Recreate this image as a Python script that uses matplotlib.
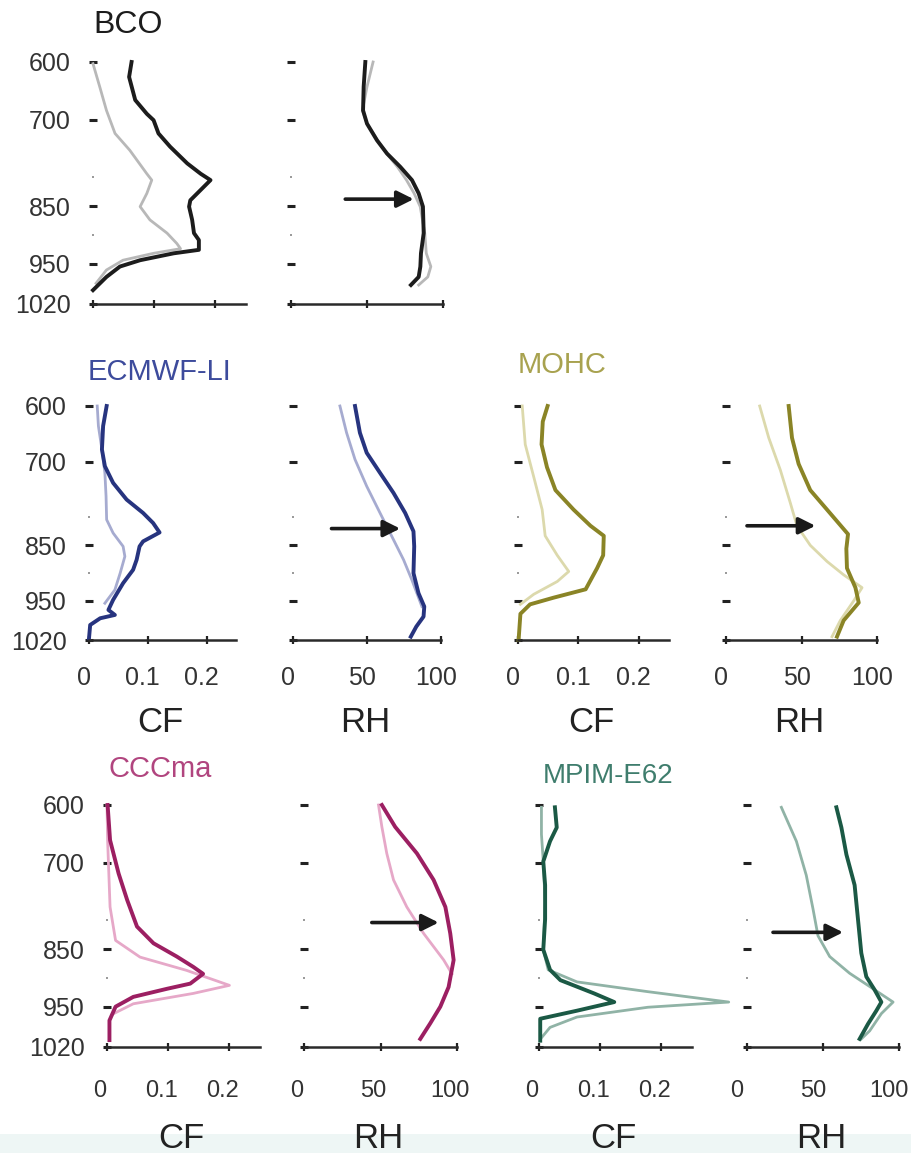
import matplotlib
matplotlib.use("Agg")
import matplotlib.pyplot as plt
from matplotlib.patches import Rectangle
from matplotlib.transforms import ScaledTranslation

plt.rcParams['font.family'] = ['Liberation Sans', 'DejaVu Sans']

# ---------------- data (pressure in hPa, CF fraction, RH %) ----------------
bco_cf_dark_p = [600, 626, 666, 690, 701, 724, 747, 776, 794, 805, 822, 840, 851, 874, 897, 909, 926, 932, 944, 955, 973, 996]
bco_cf_dark = [0.063, 0.059, 0.069, 0.088, 0.099, 0.107, 0.126, 0.154, 0.176, 0.192, 0.176, 0.159, 0.157, 0.162, 0.165, 0.173, 0.173, 0.132, 0.077, 0.044, 0.022, 0.0]
bco_cf_light_p = [603, 643, 684, 724, 753, 794, 805, 828, 851, 874, 897, 915, 924, 932, 944, 961, 984]
bco_cf_light = [0.0, 0.011, 0.022, 0.036, 0.060, 0.088, 0.096, 0.088, 0.077, 0.093, 0.121, 0.137, 0.143, 0.099, 0.049, 0.022, 0.005]
bco_rh_dark_p = [600, 643, 684, 707, 736, 759, 782, 805, 828, 851, 897, 932, 955, 973, 987]
bco_rh_dark = [48.9, 47.8, 47.4, 50.0, 56.6, 63.2, 71.9, 79.6, 84.0, 86.8, 87.3, 85.5, 85.1, 84.0, 78.9]
bco_rh_light_p = [600, 643, 684, 707, 736, 759, 782, 805, 828, 851, 897, 932, 955, 973, 987]
bco_rh_light = [54.0, 50.0, 47.0, 50.0, 57.0, 63.0, 70.0, 76.0, 81.0, 85.0, 88.0, 89.0, 92.0, 90.0, 84.0]

ecm_cf_dark_p = [600, 636, 678, 708, 738, 768, 792, 810, 827, 843, 852, 876, 894, 918, 948, 966, 975, 981, 993, 1017]
ecm_cf_dark = [0.030, 0.024, 0.022, 0.027, 0.041, 0.064, 0.092, 0.109, 0.120, 0.092, 0.086, 0.081, 0.075, 0.058, 0.041, 0.033, 0.044, 0.019, 0.002, 0.0]
ecm_cf_light_p = [600, 636, 678, 720, 762, 804, 828, 852, 870, 900, 930, 954]
ecm_cf_light = [0.014, 0.016, 0.022, 0.027, 0.029, 0.030, 0.041, 0.058, 0.061, 0.053, 0.044, 0.027]
ecm_rh_dark_p = [600, 648, 684, 720, 756, 792, 825, 852, 900, 936, 960, 978, 996, 1014]
ecm_rh_dark = [41.9, 45.2, 49.8, 58.8, 67.9, 75.8, 81.4, 81.9, 81.4, 84.8, 88.7, 88.2, 83.3, 79.6]
ecm_rh_light_p = [600, 648, 696, 744, 792, 840, 876, 912, 936, 960]
ecm_rh_light = [31.7, 36.2, 41.9, 49.8, 58.8, 67.9, 74.7, 80.3, 83.7, 87.1]

moh_cf_dark_p = [600, 628, 669, 710, 751, 786, 815, 833, 868, 891, 929, 944, 956, 973, 1020]
moh_cf_dark = [0.049, 0.041, 0.039, 0.048, 0.062, 0.092, 0.120, 0.142, 0.141, 0.131, 0.112, 0.059, 0.020, 0.004, 0.001]
moh_cf_light_p = [600, 669, 727, 786, 833, 868, 897, 915, 938, 956]
moh_cf_light = [0.007, 0.012, 0.026, 0.040, 0.045, 0.065, 0.084, 0.065, 0.026, 0.004]
moh_rh_dark_p = [600, 657, 704, 751, 786, 830, 856, 891, 926, 953, 985, 1014]
moh_rh_dark = [41.5, 43.7, 48.1, 55.8, 66.9, 80.8, 79.7, 80.1, 85.7, 87.9, 77.9, 73.5]
moh_rh_light_p = [600, 657, 715, 774, 815, 850, 879, 903, 926, 950, 985, 1014]
moh_rh_light = [22.3, 28.3, 36.0, 42.6, 47.0, 55.8, 66.9, 77.9, 90.1, 84.5, 75.7, 70.2]

ccc_cf_dark_p = [600, 661, 719, 765, 811, 840, 863, 881, 893, 910, 919, 933, 950, 974, 1008]
ccc_cf_dark = [0.001, 0.005, 0.019, 0.033, 0.049, 0.076, 0.114, 0.141, 0.157, 0.136, 0.098, 0.043, 0.014, 0.004, 0.004]
ccc_cf_light_p = [600, 661, 719, 777, 835, 864, 887, 913, 927, 945, 962]
ccc_cf_light = [0.0, 0.001, 0.003, 0.005, 0.014, 0.054, 0.130, 0.200, 0.141, 0.043, 0.011]
ccc_rh_dark_p = [600, 638, 684, 730, 777, 823, 869, 916, 950, 979, 1006]
ccc_rh_dark = [50.9, 59.6, 73.8, 84.7, 92.4, 95.6, 97.8, 94.5, 89.1, 82.5, 76.0]
ccc_rh_light_p = [600, 638, 684, 730, 777, 823, 869, 893]
ccc_rh_light = [48.7, 50.9, 54.1, 58.5, 67.2, 78.2, 91.3, 96.7]

mpi_cf_dark_p = [604, 639, 663, 698, 739, 798, 851, 886, 904, 927, 942, 957, 971, 992, 1009]
mpi_cf_dark = [0.026, 0.029, 0.018, 0.007, 0.010, 0.010, 0.007, 0.018, 0.035, 0.090, 0.123, 0.062, 0.002, 0.002, 0.002]
mpi_cf_light_p = [604, 651, 698, 769, 851, 886, 907, 924, 942, 951, 968, 986, 1004]
mpi_cf_light = [0.004, 0.004, 0.007, 0.010, 0.007, 0.015, 0.062, 0.178, 0.310, 0.178, 0.062, 0.018, 0.004]
mpi_rh_dark_p = [604, 639, 686, 739, 798, 857, 898, 921, 942, 957, 980, 1006]
mpi_rh_dark = [58.8, 62.1, 65.4, 70.8, 73.0, 75.2, 78.5, 84.0, 88.4, 85.1, 79.6, 74.1]
mpi_rh_light_p = [604, 663, 722, 780, 827, 863, 892, 915, 942, 962, 992, 1006]
mpi_rh_light = [22.6, 32.5, 39.0, 43.4, 46.7, 54.4, 67.5, 80.7, 96.1, 88.4, 80.7, 75.2]

# arrows in RH panels: (RH start, RH end, pressure)
arrow_bco = (35.7, 80.7, 838)
arrow_ecm = (26.0, 72.4, 820)
arrow_moh = (13.9, 59.2, 815)
arrow_ccc = (44.3, 88.0, 804)
arrow_mpi = (17.1, 63.2, 821)

titles = ["BCO", "ECMWF-LI", "MOHC", "CCCma", "MPIM-E62"]
cf_ticks = [0, 0.1, 0.2]
cf_ticklabels = ["0", "0.1", "0.2"]
rh_ticks = [0, 50, 100]
rh_ticklabels = ["0", "50", "100"]
p_ticks = [600, 700, 850, 950, 1020]
p_minor = [800, 900]

# ---------------- styling ----------------
W, H = 911, 1153
fig = plt.figure(figsize=(W / 100, H / 100), dpi=100)

colors = {
    "BCO": ("#1c1c1c", "#b8b8b8", "#1c1c1c"),
    "ECMWF-LI": ("#27347f", "#a6abd0", "#3d4b9c"),
    "MOHC": ("#8a8426", "#dcd9ac", "#a8a24f"),
    "CCCma": ("#9c1f62", "#e6a8c8", "#b1457f"),
    "MPIM-E62": ("#1b5945", "#90b3a6", "#3f7d6d"),
}


def fig_axes(xl, xr, yt, yb):
    return fig.add_axes([xl / W, 1 - yb / H, (xr - xl) / W, (yb - yt) / H])


def style(ax, kind, ylabels, xlabels, xpad, xshift, xsize):
    ax.set_ylim(1020, 600)
    if kind == "CF":
        ax.set_xlim(0, 0.25)
        ax.set_xticks(cf_ticks)
        ax.set_xticklabels(cf_ticklabels if xlabels else [])
    else:
        ax.set_xlim(0, 100)
        ax.set_xticks(rh_ticks)
        ax.set_xticklabels(rh_ticklabels if xlabels else [])
    for s in ["top", "right", "left"]:
        ax.spines[s].set_visible(False)
    ax.spines["bottom"].set_color("#2a2a2a")
    ax.spines["bottom"].set_linewidth(1.8)
    ax.set_yticks(p_ticks)
    ax.set_yticklabels([str(v) for v in p_ticks] if ylabels else [])
    ax.set_yticks(p_minor, minor=True)
    ax.tick_params(axis="y", which="major", direction="inout", length=6, width=2.2,
                   color="#222222", pad=13, labelsize=18, labelcolor="#333333")
    ax.tick_params(axis="y", which="minor", direction="inout", length=2, width=1.2,
                   color="#888888")
    ax.tick_params(axis="x", which="major", direction="inout", length=6, width=1.6,
                   color="#222222", pad=xpad, labelsize=xsize, labelcolor="#333333")
    shift = ScaledTranslation(-xshift / 100, 0, fig.dpi_scale_trans)
    for lab in ax.get_xticklabels():
        lab.set_transform(lab.get_transform() + shift)
    ax.patch.set_alpha(0)


def panel(xl, xr, yt, yb, kind, dark_p, dark, light_p, light, name,
          ylabels=False, xlabels=True, xpad=17, xshift=5, xsize=18, arrow=None):
    ax = fig_axes(xl, xr, yt, yb)
    dcol, lcol, _ = colors[name]
    ax.plot(light, light_p, color=lcol, lw=2.0, clip_on=False, solid_joinstyle="round")
    ax.plot(dark, dark_p, color=dcol, lw=2.8, clip_on=False, solid_joinstyle="round")
    style(ax, kind, ylabels, xlabels, xpad, xshift, xsize)
    if arrow is not None:
        x0, x1, p = arrow
        ax.annotate("", xy=(x1, p), xytext=(x0, p),
                    arrowprops=dict(arrowstyle="-|>,head_length=0.5,head_width=0.25",
                                    color="#1a1a1a", lw=2.6, shrinkA=0, shrinkB=0,
                                    mutation_scale=20))
    return ax


# Row 1: BCO
panel(93, 246, 62, 304, "CF", bco_cf_dark_p, bco_cf_dark, bco_cf_light_p, bco_cf_light,
      "BCO", ylabels=True, xlabels=False)
panel(291, 443, 62, 304, "RH", bco_rh_dark_p, bco_rh_dark, bco_rh_light_p, bco_rh_light,
      "BCO", xlabels=False, arrow=arrow_bco)

# Row 2: ECMWF-LI, MOHC
panel(89, 236, 406, 640, "CF", ecm_cf_dark_p, ecm_cf_dark, ecm_cf_light_p, ecm_cf_light,
      "ECMWF-LI", ylabels=True, xpad=16)
panel(293, 441, 406, 640, "RH", ecm_rh_dark_p, ecm_rh_dark, ecm_rh_light_p, ecm_rh_light,
      "ECMWF-LI", xpad=16, arrow=arrow_ecm)
panel(518, 669, 406, 640, "CF", moh_cf_dark_p, moh_cf_dark, moh_cf_light_p, moh_cf_light,
      "MOHC", xpad=16)
panel(726, 877, 406, 640, "RH", moh_rh_dark_p, moh_rh_dark, moh_rh_light_p, moh_rh_light,
      "MOHC", xpad=16, arrow=arrow_moh)

# Row 3: CCCma, MPIM-E62
panel(107, 260, 805, 1047, "CF", ccc_cf_dark_p, ccc_cf_dark, ccc_cf_light_p, ccc_cf_light,
      "CCCma", ylabels=True, xpad=21, xshift=7, xsize=17)
panel(304, 457, 805, 1047, "RH", ccc_rh_dark_p, ccc_rh_dark, ccc_rh_light_p, ccc_rh_light,
      "CCCma", xpad=21, xshift=7, xsize=17, arrow=arrow_ccc)
panel(539, 692, 805, 1047, "CF", mpi_cf_dark_p, mpi_cf_dark, mpi_cf_light_p, mpi_cf_light,
      "MPIM-E62", xpad=21, xshift=7, xsize=17)
panel(747, 899, 805, 1047, "RH", mpi_rh_dark_p, mpi_rh_dark, mpi_rh_light_p, mpi_rh_light,
      "MPIM-E62", xpad=21, xshift=10, xsize=17, arrow=arrow_mpi)

# bottom light strip
fig.patches.append(Rectangle((0, 0), 1, (H - 1134) / H, transform=fig.transFigure,
                             facecolor="#eef6f5", edgecolor="none", zorder=-10))

# titles
title_pos = {"BCO": (93, 33, 23), "ECMWF-LI": (88, 380, 21), "MOHC": (518, 373, 21),
             "CCCma": (109, 777, 21), "MPIM-E62": (543, 783, 20)}
for t in titles:
    x, y, fs = title_pos[t]
    fig.text(x / W, 1 - y / H, t, color=colors[t][2], fontsize=fs, ha="left", va="baseline")

# axis labels
for (xc, yb, lab) in [(160, 732, "CF"), (365, 732, "RH"), (591, 732, "CF"), (799, 732, "RH"),
                      (181, 1148, "CF"), (378, 1148, "RH"), (613, 1148, "CF"), (821, 1148, "RH")]:
    fig.text(xc / W, 1 - yb / H, lab, fontsize=25, ha="center", va="baseline", color="#222222")

fig.savefig("out.png", dpi=100)
